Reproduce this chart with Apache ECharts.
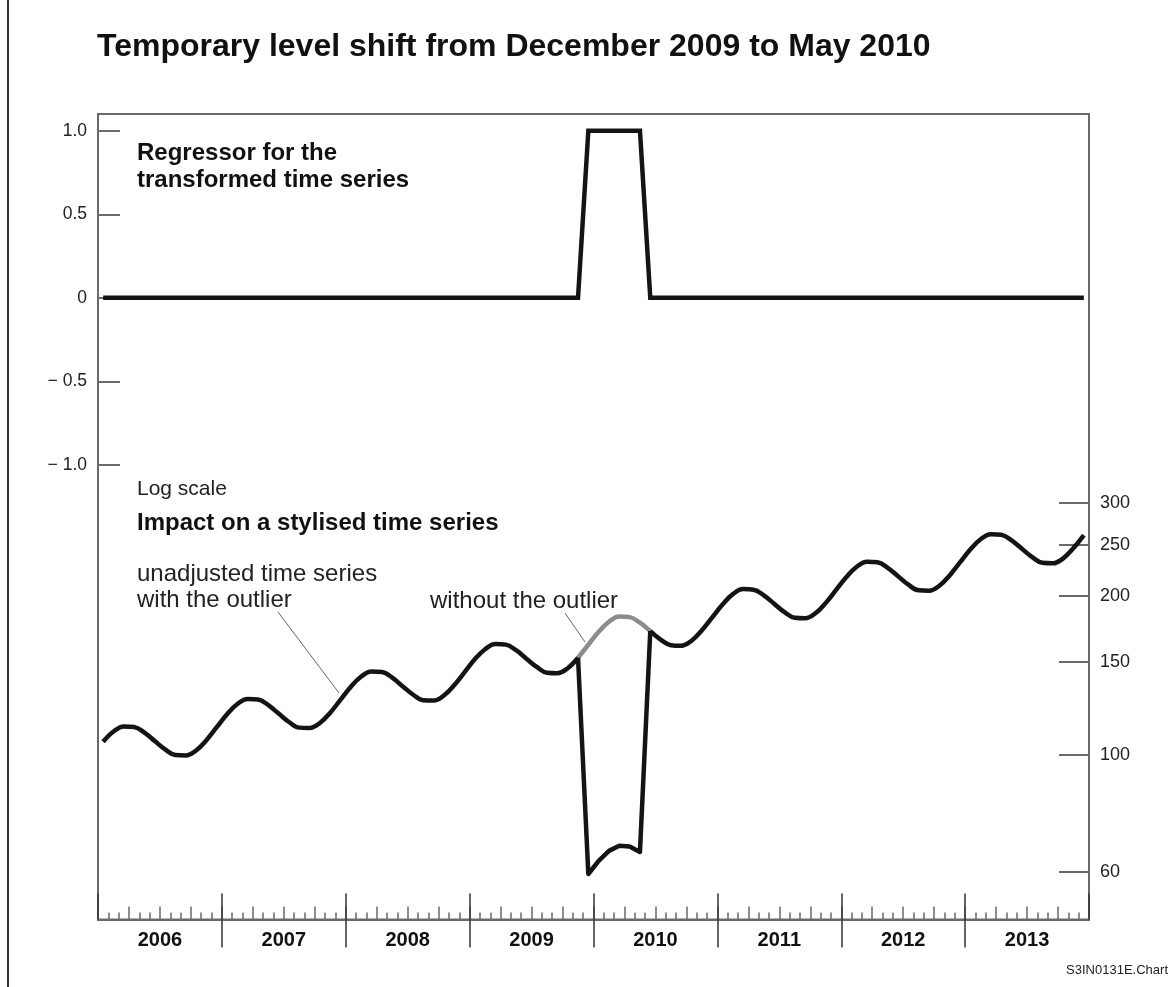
<!DOCTYPE html>
<html>
<head>
<meta charset="utf-8">
<script src="https://cdn.jsdelivr.net/npm/echarts@6/dist/echarts.min.js"></script>
<style>html,body{margin:0;padding:0;background:#fff}#c{width:1171px;height:987px}</style>
</head>
<body>
<div id="c"></div>
<script>
// ---- data ----
const years = ['2006', '2007', '2008', '2009', '2010', '2011', '2012', '2013'];
const monthNames = ['01', '02', '03', '04', '05', '06', '07', '08', '09', '10', '11', '12'];
const quarterNames = ['Q1', 'Q2', 'Q3', 'Q4'];

// regressor for the transformed series (temporary level shift Dec 2009 - May 2010)
const regressor = [
  0,0,0,0,0,0,0,0,0,0,0,0,
  0,0,0,0,0,0,0,0,0,0,0,0,
  0,0,0,0,0,0,0,0,0,0,0,0,
  0,0,0,0,0,0,0,0,0,0,0,1,
  1,1,1,1,1,0,0,0,0,0,0,0,
  0,0,0,0,0,0,0,0,0,0,0,0,
  0,0,0,0,0,0,0,0,0,0,0,0,
  0,0,0,0,0,0,0,0,0,0,0,0
];

// stylised series without the outlier (log scale)
const withoutOutlier = [
  105.8, 110.6, 113.1, 112.8, 110.1, 106.1, 102.3, 99.8, 99.6, 101.8, 106.5, 112.7,
  119.3, 124.7, 127.5, 127.2, 124.1, 119.6, 115.3, 112.5, 112.3, 114.8, 120.1, 127.1,
  134.5, 140.6, 143.7, 143.4, 139.9, 134.8, 130.0, 126.8, 126.6, 129.4, 135.3, 143.2,
  151.6, 158.4, 162.0, 161.6, 157.7, 152.0, 146.6, 143.0, 142.7, 145.8, 152.6, 161.5,
  170.9, 178.6, 182.7, 182.2, 177.8, 171.4, 165.2, 161.2, 160.8, 164.4, 172.0, 182.0,
  192.6, 201.4, 205.9, 205.4, 200.4, 193.2, 186.2, 181.7, 181.3, 185.3, 193.9, 205.2,
  217.1, 227.0, 232.1, 231.5, 226.0, 217.8, 209.9, 204.8, 204.4, 208.9, 218.6, 231.3,
  244.8, 255.9, 261.7, 261.0, 254.7, 245.5, 236.7, 230.9, 230.4, 235.5, 246.4, 260.7
];

// unadjusted series with the outlier
const unadjusted = [
  105.8, 110.6, 113.1, 112.8, 110.1, 106.1, 102.3, 99.8, 99.6, 101.8, 106.5, 112.7,
  119.3, 124.7, 127.5, 127.2, 124.1, 119.6, 115.3, 112.5, 112.3, 114.8, 120.1, 127.1,
  134.5, 140.6, 143.7, 143.4, 139.9, 134.8, 130.0, 126.8, 126.6, 129.4, 135.3, 143.2,
  151.6, 158.4, 162.0, 161.6, 157.7, 152.0, 146.6, 143.0, 142.7, 145.8, 152.6, 59.4,
  62.9, 65.7, 67.2, 67.0, 65.4, 171.4, 165.2, 161.2, 160.8, 164.4, 172.0, 182.0,
  192.6, 201.4, 205.9, 205.4, 200.4, 193.2, 186.2, 181.7, 181.3, 185.3, 193.9, 205.2,
  217.1, 227.0, 232.1, 231.5, 226.0, 217.8, 209.9, 204.8, 204.4, 208.9, 218.6, 231.3,
  244.8, 255.9, 261.7, 261.0, 254.7, 245.5, 236.7, 230.9, 230.4, 235.5, 246.4, 260.7
];

const leftTicks = [-1, -0.5, 0, 0.5, 1];
const rightTicks = [60, 100, 150, 200, 250, 300];

// ---- derived ----
const months = [];
years.forEach(y => monthNames.forEach(m => months.push(y + '-' + m)));
const quarters = [];
years.forEach(y => quarterNames.forEach(q => quarters.push(y + q)));
const yearBounds = years.slice(1).map((_, k) => (k + 1) * monthNames.length);

const first = regressor.indexOf(1), last = regressor.lastIndexOf(1);
const seg = (arr, a, b) => arr.map((v, i) => (i >= a && i <= b) ? v : null);

const FONT = '"Liberation Sans", Arial, Helvetica, sans-serif';
const AX = '#6a6a6a';
const BLACK = '#141414';

const chart = echarts.init(document.getElementById('c'), null, { renderer: 'canvas' });

const hiddenAxisBase = {
  axisLine: { show: false, onZero: false }, splitLine: { show: false }, axisLabel: { show: false }
};

const option = {
  animation: false,
  backgroundColor: '#fff',
  grid: { left: 98, right: 82, top: 114, bottom: 67.5, show: true, borderColor: AX, borderWidth: 2, backgroundColor: 'transparent' },
  xAxis: [
    { type: 'category', data: months, position: 'bottom', boundaryGap: true,
      axisLine: { show: true, onZero: false, lineStyle: { color: AX, width: 2 } },
      axisTick: { show: true, inside: true, length: 7, interval: 0, lineStyle: { color: AX, width: 1.5 } },
      axisLabel: { show: false }, splitLine: { show: false } },
    Object.assign({ type: 'category', data: quarters, position: 'bottom', boundaryGap: true,
      axisTick: { show: true, inside: true, length: 13, interval: 0, lineStyle: { color: AX, width: 1.5 } } }, hiddenAxisBase),
    Object.assign({ type: 'category', data: years, position: 'bottom', boundaryGap: true,
      axisTick: { show: true, inside: true, length: 26, interval: 0, lineStyle: { color: '#333', width: 1.5 } } }, hiddenAxisBase),
    Object.assign({ type: 'value', min: 0, max: months.length, position: 'bottom',
      axisTick: { show: true, inside: false, length: 28, customValues: yearBounds, lineStyle: { color: '#333', width: 1.5 } } }, hiddenAxisBase),
    { type: 'category', data: years, position: 'bottom', boundaryGap: true,
      axisLine: { show: false, onZero: false }, splitLine: { show: false }, axisTick: { show: false },
      axisLabel: { show: true, interval: 0, margin: 11, color: '#111', fontFamily: FONT, fontWeight: 'bold', fontSize: 20 } }
  ],
  yAxis: [
    { type: 'value', position: 'left', min: -3.72, max: 1.10,
      axisLine: { show: true, onZero: false, lineStyle: { color: AX, width: 2 } },
      axisTick: { show: true, inside: true, length: 22, customValues: leftTicks, lineStyle: { color: AX, width: 2 } },
      axisLabel: { show: true, customValues: leftTicks, margin: 11, color: '#222', fontFamily: FONT, fontSize: 17.5,
        formatter: v => (v === 0 ? '0' : (v < 0 ? '\u2212 ' : '') + Math.abs(v).toFixed(1)) },
      splitLine: { show: false } },
    { type: 'log', logBase: 10, position: 'right', min: 48.7, max: 1637,
      axisLine: { show: true, onZero: false, lineStyle: { color: AX, width: 2 } },
      axisTick: { show: true, inside: true, length: 30, customValues: rightTicks, lineStyle: { color: AX, width: 2 } },
      axisLabel: { show: true, customValues: rightTicks, margin: 11, color: '#222', fontFamily: FONT, fontSize: 18 },
      splitLine: { show: false } }
  ],
  series: [
    { name: 'Regressor', type: 'line', xAxisIndex: 0, yAxisIndex: 0, data: regressor, symbol: 'none',
      lineStyle: { color: BLACK, width: 4.5, join: 'miter' }, z: 5 },
    { name: 'without the outlier', type: 'line', xAxisIndex: 0, yAxisIndex: 1,
      data: seg(withoutOutlier, first - 1, last + 1), smooth: 0.4, symbol: 'none',
      lineStyle: { color: '#8c8c8c', width: 4.5 }, z: 3 },
    { name: 'unadjusted', type: 'line', xAxisIndex: 0, yAxisIndex: 1,
      data: seg(unadjusted, 0, first - 1), smooth: 0.4, symbol: 'none',
      lineStyle: { color: BLACK, width: 4.5 }, z: 4 },
    { name: 'unadjusted (outlier)', type: 'line', xAxisIndex: 0, yAxisIndex: 1,
      data: seg(unadjusted, first - 1, last + 1), smooth: false, symbol: 'none',
      lineStyle: { color: BLACK, width: 4.5, join: 'round' }, z: 4 },
    { name: 'unadjusted ', type: 'line', xAxisIndex: 0, yAxisIndex: 1,
      data: seg(unadjusted, last + 1, months.length - 1), smooth: 0.4, symbol: 'none',
      lineStyle: { color: BLACK, width: 4.5 }, z: 4 }
  ],
  graphic: [
    { type: 'line', shape: { x1: 8, y1: 0, x2: 8, y2: 987 }, style: { stroke: '#333', lineWidth: 2 } },
    { type: 'text', x: 97, y: 47, style: { text: 'Temporary level shift from December 2009 to May 2010', font: 'bold 32px ' + FONT, fill: '#111', textVerticalAlign: 'middle' } },
    { type: 'text', x: 137, y: 153, style: { text: 'Regressor for the', font: 'bold 24px ' + FONT, fill: '#111', textVerticalAlign: 'middle' } },
    { type: 'text', x: 137, y: 180, style: { text: 'transformed time series', font: 'bold 24px ' + FONT, fill: '#111', textVerticalAlign: 'middle' } },
    { type: 'text', x: 137, y: 489, style: { text: 'Log scale', font: '21px ' + FONT, fill: '#222', textVerticalAlign: 'middle' } },
    { type: 'text', x: 137, y: 523, style: { text: 'Impact on a stylised time series', font: 'bold 24px ' + FONT, fill: '#111', textVerticalAlign: 'middle' } },
    { type: 'text', x: 137, y: 574, style: { text: 'unadjusted time series', font: '24px ' + FONT, fill: '#222', textVerticalAlign: 'middle' } },
    { type: 'text', x: 137, y: 600, style: { text: 'with the outlier', font: '24px ' + FONT, fill: '#222', textVerticalAlign: 'middle' } },
    { type: 'text', x: 430, y: 601, style: { text: 'without the outlier', font: '24px ' + FONT, fill: '#222', textVerticalAlign: 'middle' } },
    { type: 'line', shape: { x1: 278, y1: 612, x2: 339, y2: 693 }, style: { stroke: '#666', lineWidth: 1 } },
    { type: 'line', shape: { x1: 565, y1: 613, x2: 585, y2: 642 }, style: { stroke: '#666', lineWidth: 1 } },
    { type: 'text', x: 1168, y: 970, style: { text: 'S3IN0131E.Chart', font: '13px ' + FONT, fill: '#222', textAlign: 'right', textVerticalAlign: 'middle' } }
  ]
};
chart.setOption(option);
</script>
</body>
</html>
